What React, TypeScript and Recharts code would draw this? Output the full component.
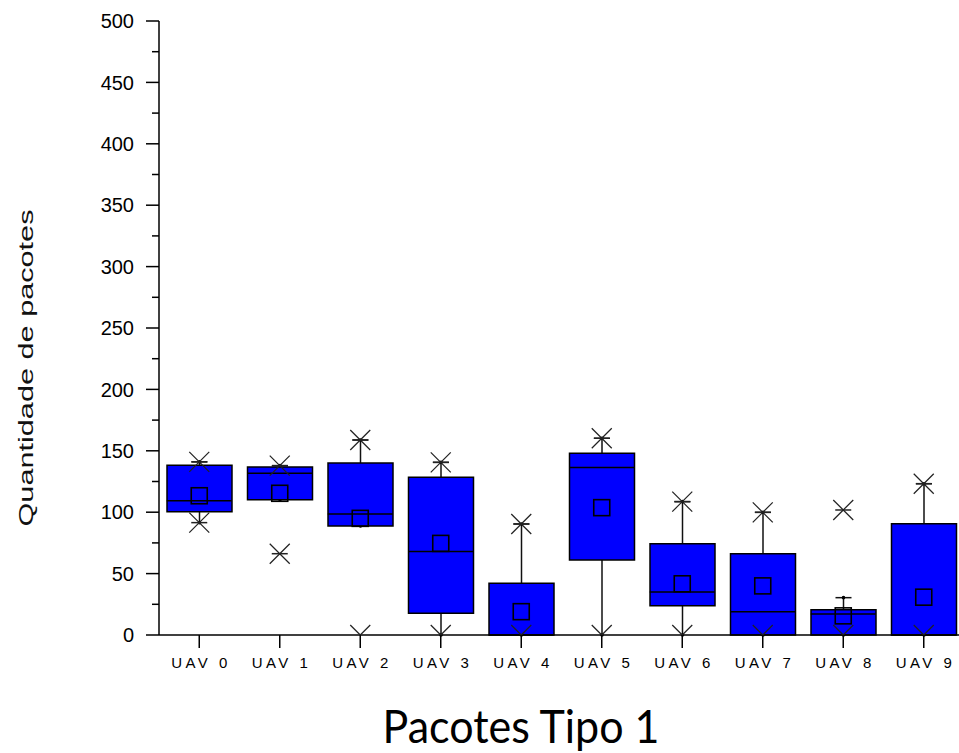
import React from "react";
import { Bar, ComposedChart, Scatter, XAxis, YAxis } from "recharts";

const CATEGORIES = ["UAV 0", "UAV 1", "UAV 2", "UAV 3", "UAV 4", "UAV 5", "UAV 6", "UAV 7", "UAV 8", "UAV 9"];
const Q1 = [100.4, 110.2, 88.8, 17.7, 0, 61, 23.9, 0, 0, 0];
const Q3 = [138.2, 136.8, 140, 128.4, 42.1, 148, 74.4, 66.2, 20.6, 90.6];
const MEDIAN = [109.4, 131.7, 98.5, 67.9, 0, 136.3, 35, 19, 17.1, 0];
const MEAN = [113.4, 115.4, 95, 74.6, 19, 103.7, 41.7, 40, 15.6, 30.8];
const WHISKER_LOW = [91.5, 110.2, 88.8, 0, 0, 0, 0, 0, 0, 0];
const WHISKER_HIGH = [141, 137.9, 158.8, 140.6, 90.4, 160.2, 108.6, 99.9, 30.4, 123.2];
const MARK_HIGH = [141, 137.9, 158.8, 140.6, 90.4, 160.2, 108.6, 99.9, 101.8, 123.2];
const MARK_LOW = [91.5, 66.2, 0, 0, 0, 0, 0, 0, 0, 0];
const Y_TICKS = [0, 25, 50, 75, 100, 125, 150, 175, 200, 225, 250, 275, 300, 325, 350, 375, 400, 425, 450, 475, 500];

const BOX_W = 65;
const FONT = "'Liberation Sans', Arial, sans-serif";

const rows = CATEGORIES.map((name, i) => ({
  name,
  box: [Q1[i], Q3[i]],
  whisker: [WHISKER_LOW[i], WHISKER_HIGH[i]],
  median: MEDIAN[i],
  mean: MEAN[i],
  markHigh: MARK_HIGH[i],
  markLow: MARK_LOW[i],
}));

function WhiskerShape(props: any) {
  const { x, y, width, height } = props;
  const cx = x + width / 2;
  const top = Math.min(y, y + height);
  const bot = Math.max(y, y + height);
  return (
    <g>
      <line x1={cx} x2={cx} y1={top} y2={bot} stroke="#111" strokeWidth={1.5} />
      <line x1={cx - 8} x2={cx + 8} y1={top} y2={top} stroke="#111" strokeWidth={1.5} />
      <circle cx={cx} cy={top} r={1.8} fill="#000" />
      <circle cx={cx} cy={bot} r={1.8} fill="#000" />
    </g>
  );
}

function MedianShape({ cx, cy }: any) {
  return <line x1={cx - BOX_W / 2} x2={cx + BOX_W / 2} y1={cy} y2={cy} stroke="#000" strokeWidth={1.5} />;
}

function MeanShape({ cx, cy }: any) {
  return <rect x={cx - 8} y={cy - 8} width={16} height={16} fill="none" stroke="#000" strokeWidth={1.6} />;
}

const crossFor = (key: string) => (props: any) => {
  const { cx, cy, payload } = props;
  const onAxis = payload[key] === 0;
  const a = 10;
  return (
    <g stroke="#222" strokeWidth={1.2}>
      <line x1={cx - a} y1={cy - a} x2={cx} y2={cy} />
      <line x1={cx + a} y1={cy - a} x2={cx} y2={cy} />
      {!onAxis && <line x1={cx - a} y1={cy + a} x2={cx} y2={cy} />}
      {!onAxis && <line x1={cx + a} y1={cy + a} x2={cx} y2={cy} />}
      {!onAxis && <line x1={cx - 8} y1={cy} x2={cx + 8} y2={cy} strokeWidth={1.5} />}
    </g>
  );
};

function YTick({ x, y, payload }: any) {
  const v = payload.value;
  const major = v % 50 === 0;
  return (
    <g>
      <line x1={x - (major ? 13 : 7)} x2={x} y1={y} y2={y} stroke="#000" strokeWidth={1.5} />
      {major && (
        <text x={x - 25} y={y} dy="0.36em" textAnchor="end" fontSize={20} fontFamily={FONT} fill="#000">
          {v}
        </text>
      )}
    </g>
  );
}

function XTick({ x, y, payload }: any) {
  return (
    <text
      x={x}
      y={y}
      dy="0.71em"
      textAnchor="middle"
      fontSize={15}
      textLength={56}
      lengthAdjust="spacing"
      fontFamily={FONT}
      fill="#000"
    >
      {payload.value}
    </text>
  );
}

function YTitle() {
  return (
    <text
      x={18}
      y={360}
      transform="rotate(-90 18 360)"
      textAnchor="middle"
      dy="0.36em"
      fontSize={20}
      textLength={317}
      lengthAdjust="spacingAndGlyphs"
      fontFamily={FONT}
      fill="#111"
    >
      Quantidade de pacotes
    </text>
  );
}

function XTitle() {
  return (
    <text
      x={513}
      y={735}
      textAnchor="middle"
      fontSize={46}
      textLength={277}
      lengthAdjust="spacingAndGlyphs"
      fontFamily="Lato, 'Open Sans', sans-serif"
      fill="#000"
    >
      Pacotes Tipo 1
    </text>
  );
}

export default function App() {
  return (
    <div style={{ position: "absolute", left: 8, top: 8, width: 951, height: 745, overflow: "hidden", background: "#fff" }}>
      <ComposedChart width={960} height={745} data={rows} margin={{ top: 13, right: 4, bottom: 78, left: 0 }}>
        <XAxis
          xAxisId="main"
          dataKey="name"
          type="category"
          axisLine={{ stroke: "#000", strokeWidth: 1.5 }}
          tickLine={{ stroke: "#000", strokeWidth: 1.5 }}
          tickSize={13}
          tickMargin={9}
          height={40}
          interval={0}
          tick={<XTick />}
          label={<XTitle />}
        />
        <XAxis xAxisId="w" dataKey="name" type="category" hide />
        <YAxis
          domain={[0, 500]}
          ticks={Y_TICKS}
          interval={0}
          width={151}
          tickSize={0}
          tickMargin={0}
          tickLine={false}
          axisLine={{ stroke: "#000", strokeWidth: 1.5 }}
          tick={<YTick />}
          label={<YTitle />}
        />
        <Bar xAxisId="w" dataKey="whisker" barSize={BOX_W} shape={<WhiskerShape />} isAnimationActive={false} />
        <Bar xAxisId="main" dataKey="box" barSize={BOX_W} fill="#0000FF" stroke="#000" strokeWidth={1.5} isAnimationActive={false} />
        <Scatter xAxisId="main" dataKey="median" shape={<MedianShape />} isAnimationActive={false} />
        <Scatter xAxisId="main" dataKey="mean" shape={<MeanShape />} isAnimationActive={false} />
        <Scatter xAxisId="main" dataKey="markHigh" shape={crossFor("markHigh")} isAnimationActive={false} />
        <Scatter xAxisId="main" dataKey="markLow" shape={crossFor("markLow")} isAnimationActive={false} />
      </ComposedChart>
    </div>
  );
}
